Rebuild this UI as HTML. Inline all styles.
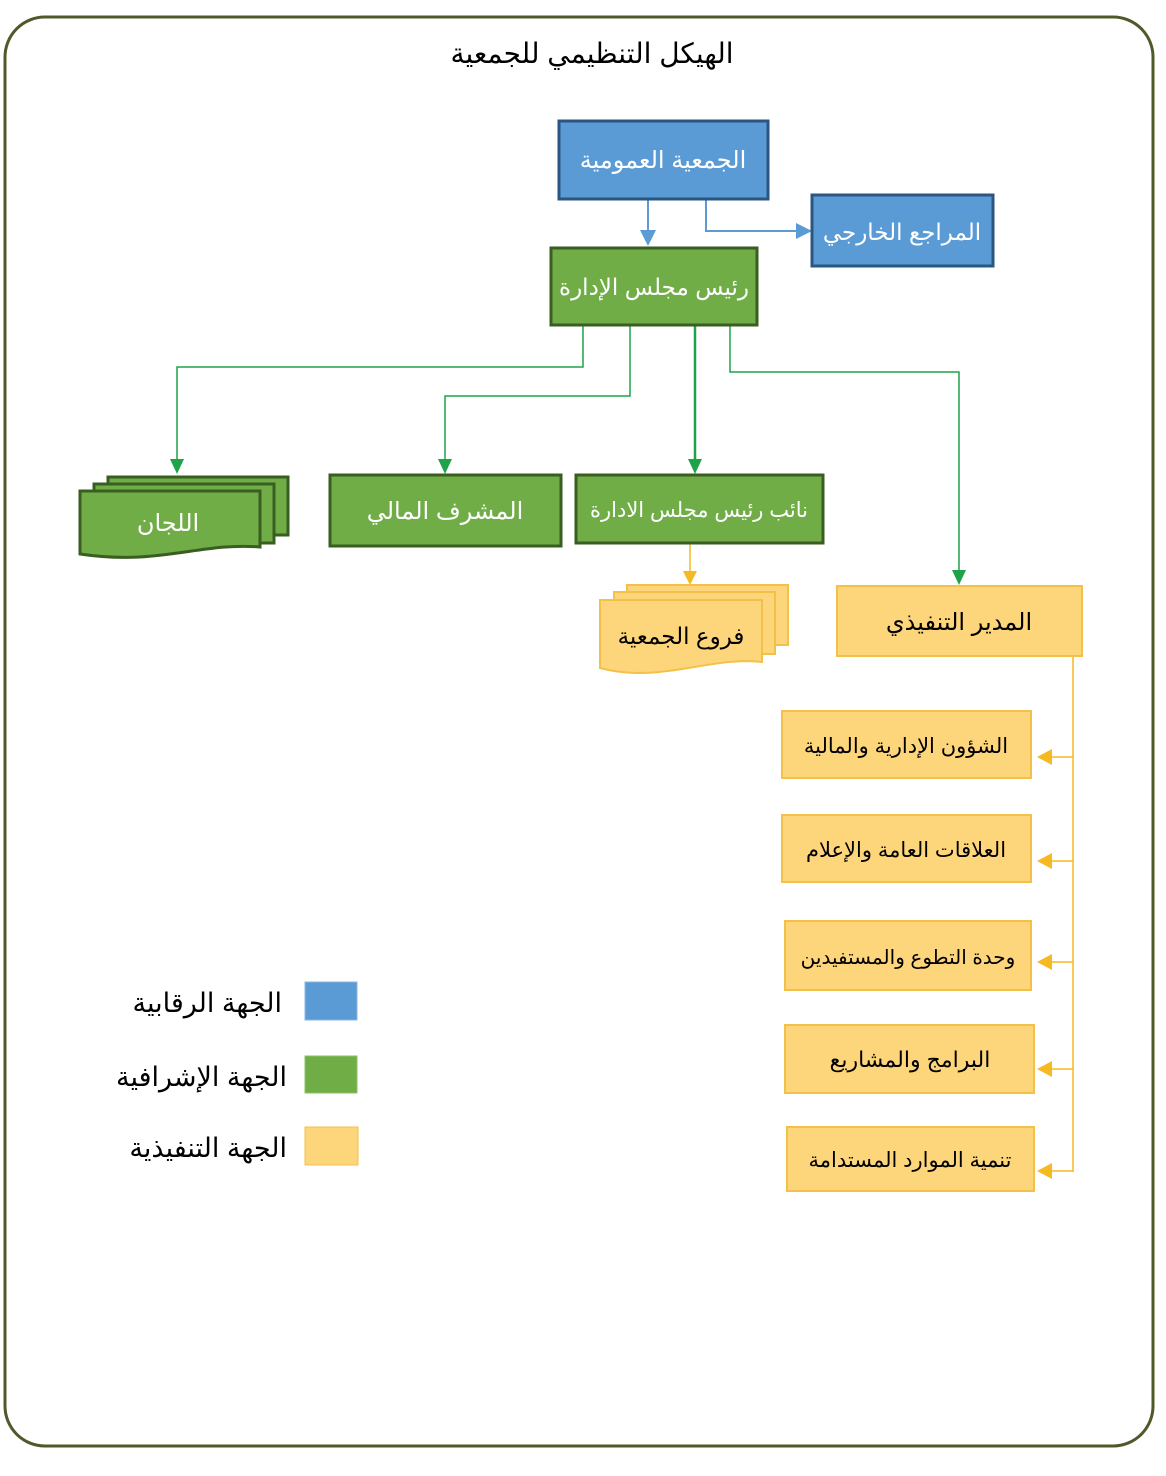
<!DOCTYPE html>
<html><head><meta charset="utf-8"><style>
html,body{margin:0;padding:0;background:#fff;}
svg{display:block;}
text{font-family:"Liberation Sans","DejaVu Sans",sans-serif;}
</style></head><body>
<svg width="1166" height="1476" viewBox="0 0 1166 1476" xmlns="http://www.w3.org/2000/svg">
<rect x="5" y="17" width="1148" height="1429" rx="40" fill="#fff" stroke="#4f5a2a" stroke-width="3"/>
<text x="592" y="63" font-size="28" text-anchor="middle" fill="#000">الهيكل التنظيمي للجمعية</text>

<g fill="none">
<line x1="648" y1="199" x2="648" y2="232" stroke="#5b9bd5" stroke-width="2"/>
<polyline points="706,199 706,231 798,231" stroke="#5b9bd5" stroke-width="2"/>
<polyline points="583,325 583,367 177,367 177,460" stroke="#1fa34a" stroke-width="1.5"/>
<polyline points="630,325 630,396 445,396 445,460" stroke="#1fa34a" stroke-width="1.5"/>
<line x1="695" y1="325" x2="695" y2="460" stroke="#1fa34a" stroke-width="2.5"/>
<polyline points="730,325 730,372 959,372 959,570" stroke="#1fa34a" stroke-width="1.5"/>
<line x1="690" y1="543" x2="690" y2="572" stroke="#f5b921" stroke-width="1.5"/>
<line x1="1073" y1="656" x2="1073" y2="1172" stroke="#f5b921" stroke-width="1.5"/>
<g stroke="#f5b921" stroke-width="1.5">
<line x1="1073" y1="757" x2="1050" y2="757"/>
<line x1="1073" y1="861" x2="1050" y2="861"/>
<line x1="1073" y1="962" x2="1050" y2="962"/>
<line x1="1073" y1="1069" x2="1050" y2="1069"/>
<line x1="1073" y1="1171" x2="1050" y2="1171"/>
</g>
</g>
<g fill="#5b9bd5">
<path d="M640,230 L656,230 L648,246 Z"/>
<path d="M796,223 L812,231 L796,239 Z"/>
</g>
<g fill="#1fa34a">
<path d="M170,459 L184,459 L177,474 Z"/>
<path d="M438,459 L452,459 L445,474 Z"/>
<path d="M688,459 L702,459 L695,474 Z"/>
<path d="M952,570 L966,570 L959,585 Z"/>
</g>
<g fill="#f5b921">
<path d="M683,571 L697,571 L690,585 Z"/>
<path d="M1052,749 L1052,765 L1037,757 Z"/>
<path d="M1052,853 L1052,869 L1037,861 Z"/>
<path d="M1052,954 L1052,970 L1037,962 Z"/>
<path d="M1052,1061 L1052,1077 L1037,1069 Z"/>
<path d="M1052,1163 L1052,1179 L1037,1171 Z"/>
</g>

<rect x="559" y="121" width="209" height="78" fill="#5b9bd5" stroke="#2a5680" stroke-width="3"/>
<text x="663" y="168" font-size="24" fill="#fff" text-anchor="middle">الجمعية العمومية</text>
<rect x="812" y="195" width="181" height="71" fill="#5b9bd5" stroke="#2a5680" stroke-width="3"/>
<text x="902" y="240" font-size="23" fill="#fff" text-anchor="middle">المراجع الخارجي</text>

<rect x="551" y="248" width="206" height="77" fill="#70ad47" stroke="#3a5e22" stroke-width="3"/>
<text x="654" y="295" font-size="23" fill="#fff" text-anchor="middle">رئيس مجلس الإدارة</text>
<rect x="330" y="475" width="231" height="71" fill="#70ad47" stroke="#3a5e22" stroke-width="3"/>
<text x="445" y="519" font-size="24" fill="#fff" text-anchor="middle">المشرف المالي</text>
<rect x="576" y="475" width="247" height="68" fill="#70ad47" stroke="#3a5e22" stroke-width="3"/>
<text x="699" y="517" font-size="21" fill="#fff" text-anchor="middle">نائب رئيس مجلس الادارة</text>

<g fill="#70ad47" stroke="#3a5e22" stroke-width="3">
<path d="M108,477 H288 V535 H108 Z"/>
<path d="M94,484 H274 V543 H94 Z"/>
<path d="M80,491 H260 V547 C200,542 160,566 80,554 Z"/>
</g>
<text x="168" y="531" font-size="24" fill="#fff" text-anchor="middle">اللجان</text>

<g fill="#fdd57a" stroke="#f3c04a" stroke-width="2">
<path d="M627,585 H788 V645 H627 Z"/>
<path d="M614,592 H775 V654 H614 Z"/>
<path d="M600,600 H762 V662 C710,656 660,684 600,668 Z"/>
</g>
<text x="681" y="644" font-size="23" fill="#000" text-anchor="middle">فروع الجمعية</text>

<g fill="#fdd57a" stroke="#f3c04a" stroke-width="2">
<rect x="837" y="586" width="245" height="70"/>
<rect x="782" y="711" width="249" height="67"/>
<rect x="782" y="815" width="249" height="67"/>
<rect x="785" y="921" width="246" height="69"/>
<rect x="785" y="1025" width="249" height="68"/>
<rect x="787" y="1127" width="247" height="64"/>
</g>
<g fill="#000" text-anchor="middle">
<text x="959" y="630" font-size="24">المدير التنفيذي</text>
<text x="906" y="753" font-size="21">الشؤون الإدارية والمالية</text>
<text x="906" y="857" font-size="21">العلاقات العامة والإعلام</text>
<text x="908" y="964" font-size="20">وحدة التطوع والمستفيدين</text>
<text x="910" y="1067" font-size="22">البرامج والمشاريع</text>
<text x="910" y="1167" font-size="21">تنمية الموارد المستدامة</text>
</g>

<rect x="305" y="982" width="52" height="38" fill="#5b9bd5" stroke="#8ab6e0" stroke-width="1"/>
<rect x="305" y="1056" width="52" height="37" fill="#70ad47" stroke="#8ac36a" stroke-width="1"/>
<rect x="305" y="1127" width="53" height="38" fill="#fdd57a" stroke="#f3c04a" stroke-width="1"/>
<g font-size="27" fill="#000" text-anchor="end">
<text x="282" y="1012">الجهة الرقابية</text>
<text x="287" y="1086">الجهة الإشرافية</text>
<text x="287" y="1157">الجهة التنفيذية</text>
</g>
</svg>
</body></html>
